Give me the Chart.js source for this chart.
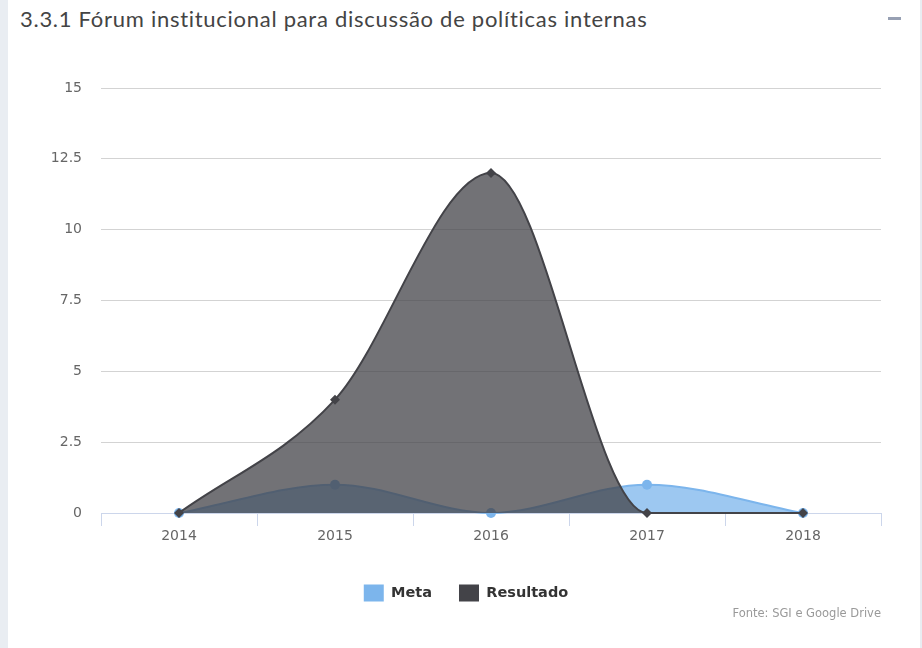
<!DOCTYPE html>
<html lang="pt-br">
<head>
<meta charset="UTF-8">
<title>3.3.1 Fórum institucional</title>
<script src="https://cdn.jsdelivr.net/npm/chart.js"></script>
<style>
body {
    margin: 0;
    background: #e9edf2;
    width: 922px;
    height: 648px;
    overflow: hidden;
}
.painel {
    position: absolute;
    left: 8px;
    top: 0;
    width: 912px;
    height: 648px;
    background: #fff;
}
.titulo {
    position: absolute;
    left: 20px;
    top: 5px;
    font-family: Lato, "Open Sans", sans-serif;
    font-size: 22px;
    letter-spacing: 0.72px;
    color: #444;
    white-space: nowrap;
}
.minimizar {
    position: absolute;
    left: 888px;
    top: 17px;
    width: 13px;
    height: 3px;
    background: #97a0b3;
}
.fonte {
    position: absolute;
    right: 41px;
    top: 606px;
    font-family: "DejaVu Sans", sans-serif;
    font-size: 11.5px;
    color: #999;
}
.grafico {
    position: absolute;
    left: 0;
    top: 0;
    width: 922px;
    height: 648px;
}
</style>
</head>
<body>
<div class="painel"></div>
<div class="titulo">3.3.1 Fórum institucional para discussão de políticas internas</div>
<div class="minimizar"></div>
<div class="grafico"><canvas id="forumChart"></canvas></div>
<div class="fonte">Fonte: SGI e Google Drive</div>
<script>
// dados
const anos = ['2014', '2015', '2016', '2017', '2018'];
const meta = [0, 1, 0, 1, 0];
const resultado = [0, 4, 12, 0, 0];
const yTickLabels = ['0', '2.5', '5', '7.5', '10', '12.5', '15'];
const seriesNames = ['Meta', 'Resultado'];
const seriesColors = ['#7cb5ec', '#434348'];

const ctx = document.getElementById('forumChart').getContext('2d');
new Chart(ctx, {
    type: 'line',
    data: {
        labels: anos,
        datasets: [{
            label: seriesNames[0],
            data: meta,
            borderColor: seriesColors[0],
            backgroundColor: 'rgba(124,181,236,0.75)',
            borderWidth: 2,
            fill: 'origin',
            cubicInterpolationMode: 'monotone',
            pointStyle: 'circle',
            pointRadius: 5,
            pointBorderWidth: 0,
            pointBackgroundColor: seriesColors[0],
            clip: false,
            order: 1
        }, {
            label: seriesNames[1],
            data: resultado,
            borderColor: seriesColors[1],
            backgroundColor: 'rgba(67,67,72,0.75)',
            borderWidth: 2,
            fill: 'origin',
            cubicInterpolationMode: 'monotone',
            pointStyle: 'rectRot',
            pointRadius: 5,
            pointBorderWidth: 0,
            pointBackgroundColor: seriesColors[1],
            clip: false,
            order: 0
        }]
    },
    options: {
        responsive: true,
        maintainAspectRatio: false,
        animation: false,
        events: [],
        // padding esquerda maior para centrar a legenda como no original
        layout: { padding: { top: 88, left: 51, right: 41, bottom: 36.5 } },
        scales: {
            x: {
                offset: true,
                afterFit: s => { s.height = 44.5; },
                border: { display: true, color: '#ccd6eb', width: 1 },
                grid: {
                    display: true,
                    offset: true,
                    drawOnChartArea: false,
                    drawTicks: true,
                    tickLength: 13,
                    color: '#ccd6eb'
                },
                ticks: {
                    color: '#666',
                    padding: 2,
                    maxRotation: 0,
                    font: { family: 'DejaVu Sans', size: 14 }
                }
            },
            y: {
                min: 0,
                max: 15,
                afterFit: s => { s.width = 50; },
                border: { display: false },
                grid: { color: '#d3d3d3', drawTicks: false },
                ticks: {
                    stepSize: 2.5,
                    padding: 19,
                    color: '#666',
                    font: { family: 'DejaVu Sans', size: 14 },
                    callback: (v, i) => yTickLabels[i]
                }
            }
        },
        plugins: {
            legend: {
                position: 'bottom',
                labels: {
                    boxWidth: 20,
                    boxHeight: 17,
                    padding: 27,
                    color: '#333',
                    font: { family: 'DejaVu Sans', size: 14.5, weight: 'bold' },
                    sort: (a, b) => a.datasetIndex - b.datasetIndex,
                    generateLabels: chart => Chart.defaults.plugins.legend.labels.generateLabels(chart).map(l => ({
                        ...l,
                        fillStyle: seriesColors[l.datasetIndex],
                        strokeStyle: seriesColors[l.datasetIndex],
                        lineWidth: 0
                    }))
                }
            },
            title: { display: false },
            tooltip: { enabled: false }
        }
    }
});
</script>
</body>
</html>
